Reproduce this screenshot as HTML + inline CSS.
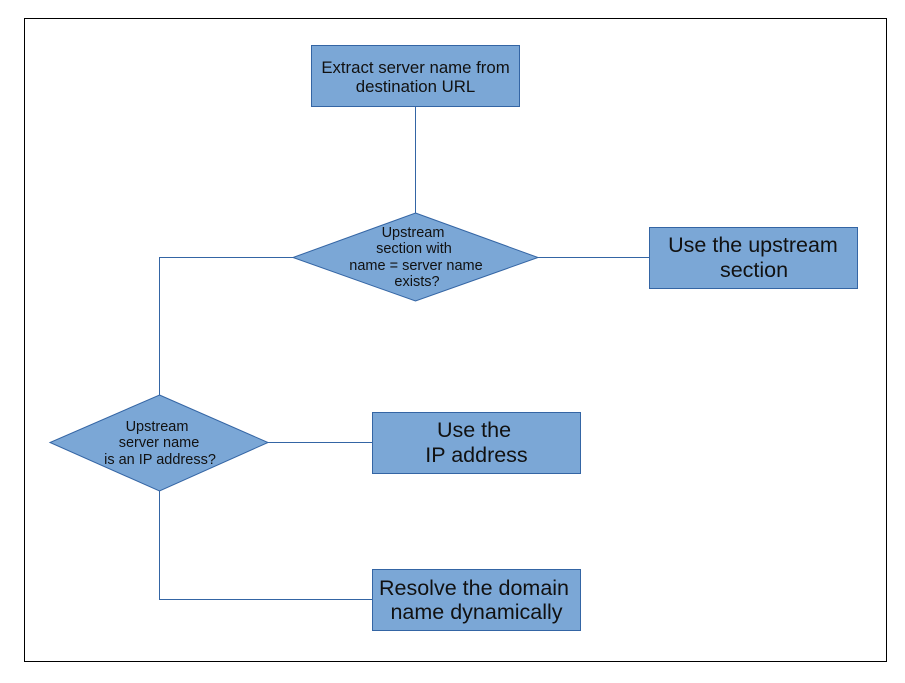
<!DOCTYPE html>
<html><head><style>
html,body{margin:0;padding:0;background:#fff;}
svg text{font-family:"Liberation Sans",sans-serif;fill:#111;}
</style></head><body>
<svg width="905" height="678" viewBox="0 0 905 678" xmlns="http://www.w3.org/2000/svg">
<rect x="24.5" y="18.5" width="862" height="643" fill="none" stroke="#000" stroke-width="1"/>
<g stroke="#3465a4" stroke-width="1" fill="none">
<line x1="415.5" y1="106" x2="415.5" y2="213"/>
<line x1="538" y1="257.5" x2="649" y2="257.5"/>
<polyline points="293,257.5 159.5,257.5 159.5,395"/>
<line x1="268" y1="442.5" x2="372" y2="442.5"/>
<polyline points="159.5,491 159.5,599.5 372,599.5"/>
</g>
<g fill="#7ba7d6" stroke="#3465a4" stroke-width="1">
<rect x="311.5" y="45.5" width="208" height="61"/>
<rect x="649.5" y="227.5" width="208" height="61"/>
<rect x="372.5" y="412.5" width="208" height="61"/>
<rect x="372.5" y="569.5" width="208" height="61"/>
<polygon points="415.5,213 538,257.5 415.5,301 293,257.5"/>
<polygon points="159.5,395 268,442.5 159.5,491 50,442.5"/>
</g>
<g text-anchor="middle">
<text x="415.5" y="73" font-size="16.8">Extract server name from</text>
<text x="415.5" y="92" font-size="16.8">destination URL</text>
<text x="753" y="252" font-size="21.5">Use the upstream</text>
<text x="754" y="277" font-size="21.5">section</text>
<text x="474" y="437" font-size="21.5">Use the</text>
<text x="476.5" y="462" font-size="21.5">IP address</text>
<text x="474" y="595" font-size="21.5">Resolve the domain</text>
<text x="476.5" y="619" font-size="21.5">name dynamically</text>
<text x="413" y="237" font-size="14.5">Upstream</text>
<text x="414" y="253" font-size="14.5">section with</text>
<text x="416" y="270" font-size="14.5">name = server name</text>
<text x="417" y="286" font-size="14.5">exists?</text>
<text x="157" y="431" font-size="14.5">Upstream</text>
<text x="159" y="447" font-size="14.5">server name</text>
<text x="160" y="464" font-size="14.5">is an IP address?</text>
</g>
</svg>
</body></html>
